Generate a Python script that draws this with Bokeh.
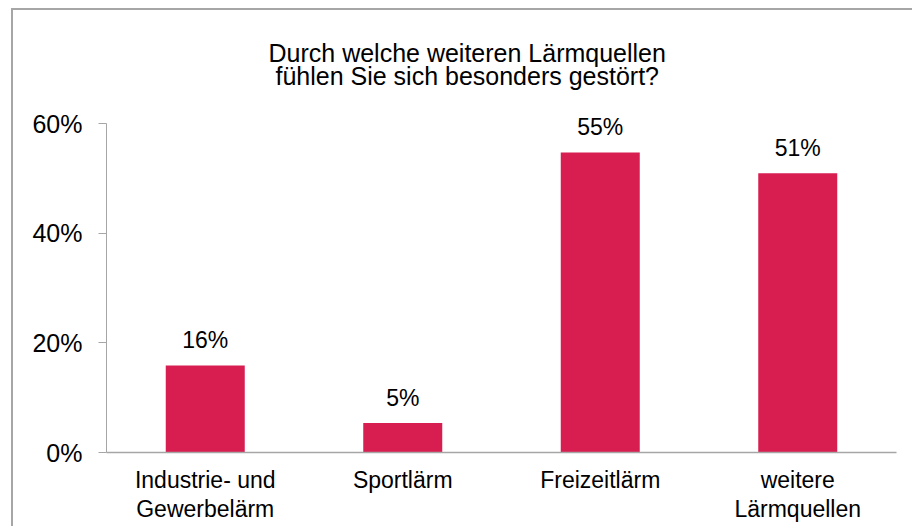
from bokeh.plotting import figure
from bokeh.models import (ColumnDataSource, Range1d, FixedTicker, PrintfTickFormatter, LabelSet,
                          FactorRange, Title, CategoricalAxis, CustomJSTickFormatter)
from bokeh.core.properties import value
from bokeh.embed import file_html
from bokeh.resources import INLINE

categories = ["Industrie- und Gewerbelärm", "Sportlärm", "Freizeitlärm", "weitere Lärmquellen"]
category_labels = ["Industrie- und\nGewerbelärm", "Sportlärm", "Freizeitlärm", "weitere\nLärmquellen"]
values = [15.9, 5.4, 54.8, 51.0]
value_labels = ["16%", "5%", "55%", "51%"]
y_ticks = [0, 20, 40, 60]
title_text = "Durch welche weiteren Lärmquellen\n\u00a0fühlen Sie sich besonders gestört?"

FONT = "Liberation Sans"
BAR = "#D81E51"
AXIS = "#A6A6A6"

line1 = [c.split("\n")[0] for c in category_labels]
line2 = [(c.split("\n") + [""])[1] for c in category_labels]
src = ColumnDataSource(dict(cat=categories, val=values, lab=value_labels))

p = figure(x_range=FactorRange(*categories, range_padding=0), y_range=Range1d(0, 63),
           width=901, height=518, output_backend="svg", toolbar_location=None,
           min_border_left=93, min_border_right=18, min_border_top=97, min_border_bottom=76)
p.styles = {"border-left": f"2px solid {AXIS}", "border-top": f"2px solid {AXIS}",
            "margin-left": "11px", "margin-top": "8px"}

p.title = Title(text=title_text, align="left", offset=162, standoff=34, text_font=FONT,
                text_font_size="25px", text_font_style="normal", text_color="black",
                text_line_height=0.84)

p.vbar(x="cat", top="val", width=0.4, source=src, fill_color=BAR, line_color=None)

p.add_layout(LabelSet(x="cat", y="val", text="lab", source=src, text_align="center",
                      text_baseline="alphabetic", y_offset=17, text_font=value(FONT),
                      text_font_size=value("23px"), text_color="black"))

p.outline_line_color = None
p.xgrid.grid_line_color = None
p.ygrid.grid_line_color = None

p.yaxis.ticker = FixedTicker(ticks=y_ticks)
p.yaxis.bounds = (y_ticks[0], y_ticks[-1])
p.yaxis.formatter = PrintfTickFormatter(format="%d%%")
p.yaxis.major_tick_out = 8
p.yaxis.major_tick_in = 0
p.yaxis.minor_tick_line_color = None
p.yaxis.axis_line_color = AXIS
p.yaxis.major_tick_line_color = AXIS
p.yaxis.major_label_text_font = FONT
p.yaxis.major_label_text_font_size = "25px"
p.yaxis.major_label_text_color = "black"
p.yaxis.major_label_standoff = 16

# category labels: first line on the main x axis, second line on a second axis below it
def line_formatter(lines):
    return CustomJSTickFormatter(args=dict(factors=categories, lines=lines),
                                 code="const i = factors.indexOf(tick); return i >= 0 ? lines[i] : '';")

xa = p.xaxis[0]
xa.formatter = line_formatter(line1)
xa2 = CategoricalAxis(formatter=line_formatter(line2))
p.add_layout(xa2, "below")
for ax, so in [(xa, 14), (xa2, 0)]:
    ax.major_tick_line_color = None
    ax.major_tick_out = 0
    ax.major_tick_in = 0
    ax.minor_tick_line_color = None
    ax.major_label_text_font = FONT
    ax.major_label_text_font_size = "23px"
    ax.major_label_text_color = "black"
    ax.major_label_standoff = so
    ax.major_label_orientation = "horizontal"
xa.axis_line_color = AXIS
xa.axis_line_width = 1.5
xa2.axis_line_color = None

open("out.html", "w").write(file_html(p, INLINE))
